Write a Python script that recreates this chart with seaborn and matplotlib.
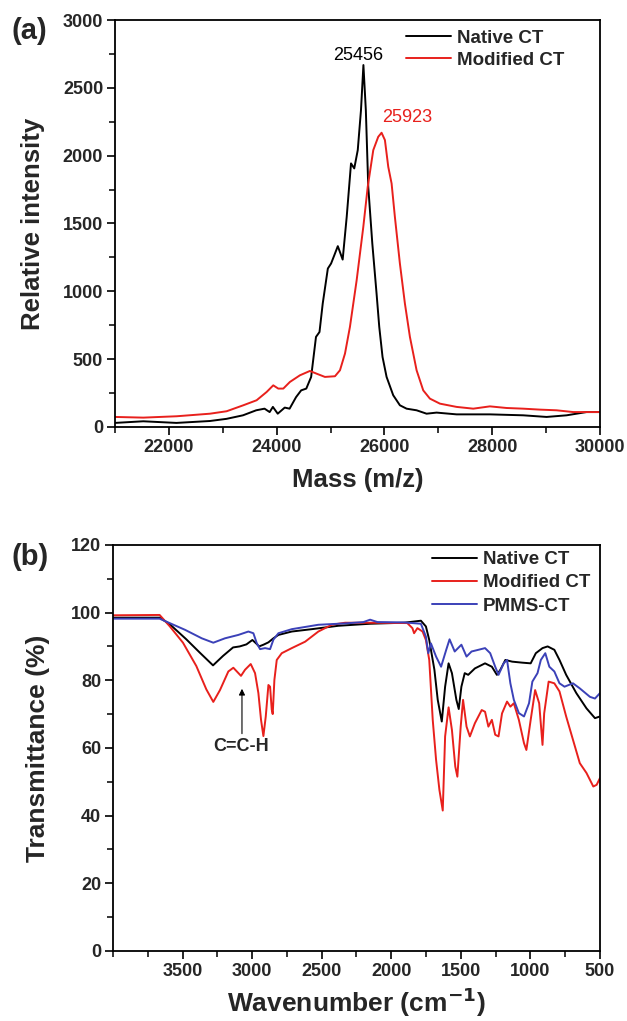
import numpy as np
import pandas as pd
import matplotlib
matplotlib.use("Agg")
import matplotlib.pyplot as plt
from matplotlib.ticker import MultipleLocator, FixedLocator
import seaborn as sns

# (a) mass spectra
mass_native = [21000, 21525, 22140, 22760, 23070, 23375, 23620, 23775, 23870, 23930,
               24020, 24150, 24240, 24360, 24455, 24550, 24640, 24730, 24795, 24855,
               24950, 25010, 25070, 25135, 25225, 25300, 25380, 25440, 25505, 25565,
               25610, 25655, 25700, 25775, 25854, 25904, 25965, 26040, 26163, 26287,
               26411, 26597, 26782, 26968, 27339, 27957, 28576, 29009, 29380, 29751, 30000]
int_native = [30, 42, 30, 44, 60, 86, 123, 135, 110, 148,
              98, 143, 135, 220, 270, 283, 369, 664, 700, 910,
              1168, 1205, 1266, 1333, 1234, 1549, 1943, 1906, 2041, 2336,
              2668, 2336, 1770, 1353, 984, 738, 516, 369, 234, 160,
              135, 123, 98, 106, 93, 93, 86, 74, 86, 110, 110]

mass_mod = [21000, 21526, 22144, 22763, 23072, 23381, 23628, 23814, 23937, 24030,
            24123, 24246, 24432, 24617, 24741, 24896, 25082, 25175, 25268, 25360,
            25484, 25608, 25690, 25793, 25885, 25947, 26009, 26071, 26133, 26194,
            26287, 26380, 26473, 26597, 26720, 26844, 27030, 27339, 27648, 27957,
            28266, 28576, 28885, 29194, 29504, 30000]
int_mod = [74, 69, 79, 98, 116, 160, 197, 258, 307, 283,
           283, 332, 381, 413, 393, 369, 374, 418, 541, 738,
           1080, 1475, 1770, 2041, 2139, 2169, 2115, 1918, 1795, 1549,
           1205, 910, 664, 418, 270, 209, 172, 148, 135, 152,
           140, 135, 128, 123, 110, 110]

# (b) FTIR spectra
wn_native = [4000, 3665, 3593, 3473, 3377, 3281, 3209, 3137, 3089, 3041,
             2998, 2969, 2950, 2919, 2883, 2847, 2811, 2715, 2571, 2380,
             2152, 1909, 1787, 1751, 1727, 1690, 1666, 1637, 1613, 1588,
             1564, 1532, 1515, 1496, 1472, 1447, 1399, 1326, 1277, 1241,
             1216, 1180, 1131, 1058, 998, 961, 913, 876, 828, 791,
             743, 670, 597, 536, 500]
t_native = [98.5, 98.5, 96.6, 92.1, 88.2, 84.4, 87.2, 89.7, 90.0, 90.6,
            91.9, 90.8, 90.0, 90.5, 91.2, 92.4, 93.4, 94.4, 95.1, 96.1,
            96.7, 97.0, 97.6, 95.9, 91.9, 83.1, 74.2, 67.8, 78.1, 85.0,
            82.1, 74.2, 71.5, 78.1, 82.1, 81.6, 83.5, 85.0, 84.0, 81.6,
            83.1, 86.0, 85.5, 85.2, 85.0, 88.0, 89.5, 90.0, 89.0, 86.0,
            81.6, 76.2, 71.7, 68.8, 69.3]

wn_mod = [4000, 3665, 3593, 3497, 3401, 3329, 3279, 3231, 3171, 3135,
          3080, 3051, 3010, 2979, 2955, 2936, 2919, 2902, 2883, 2871,
          2859, 2852, 2840, 2823, 2787, 2715, 2619, 2524, 2428, 2332,
          2152, 1885, 1848, 1836, 1812, 1775, 1751, 1727, 1702, 1678,
          1654, 1630, 1613, 1588, 1564, 1540, 1525, 1501, 1484, 1459,
          1435, 1399, 1350, 1326, 1302, 1277, 1253, 1229, 1204, 1168,
          1144, 1119, 1083, 1046, 1029, 998, 966, 937, 913, 901,
          869, 828, 791, 743, 694, 645, 597, 548, 524, 500]
t_mod = [99.2, 99.3, 96.0, 91.1, 84.2, 77.3, 73.6, 77.1, 82.6, 83.7,
         81.3, 83.1, 84.8, 82.1, 76.2, 68.3, 63.5, 69.3, 78.6, 78.1,
         71.3, 70.0, 80.1, 86.0, 88.0, 89.5, 91.4, 94.4, 96.4, 97.0,
         97.0, 96.9, 95.4, 93.9, 95.4, 94.4, 91.9, 86.0, 68.3, 56.5,
         47.6, 41.5, 63.4, 72.0, 65.3, 54.5, 51.5, 66.3, 74.2, 66.3,
         63.4, 67.3, 71.2, 70.7, 66.3, 68.3, 63.9, 63.4, 70.2, 73.7,
         72.2, 73.2, 68.3, 61.4, 59.4, 68.3, 77.1, 73.2, 60.9, 70.2,
         79.6, 79.1, 76.7, 69.3, 62.4, 55.5, 52.6, 48.6, 49.1, 51.1]

wn_pmms = [4000, 3665, 3626, 3482, 3362, 3279, 3195, 3099, 3027, 2991,
           2967, 2943, 2907, 2871, 2847, 2811, 2715, 2524, 2332, 2200,
           2152, 2100, 1909, 1787, 1751, 1734, 1715, 1678, 1642, 1605,
           1581, 1544, 1496, 1459, 1423, 1374, 1326, 1289, 1253, 1229,
           1192, 1168, 1144, 1119, 1083, 1046, 1010, 986, 949, 925,
           893, 864, 828, 791, 755, 694, 645, 572, 536, 500]
t_pmms = [98.2, 98.2, 97.5, 94.9, 92.4, 91.1, 92.4, 93.4, 94.4, 93.9,
          91.0, 89.2, 89.5, 89.2, 92.0, 93.9, 95.1, 96.4, 96.8, 97.2,
          97.9, 97.2, 97.1, 96.7, 92.9, 88.0, 90.9, 87.0, 84.0, 89.0,
          92.1, 88.5, 90.5, 87.0, 88.5, 89.0, 89.5, 88.0, 84.0, 81.6,
          85.0, 86.0, 79.1, 74.2, 70.3, 69.3, 73.2, 79.6, 82.1, 86.0,
          88.0, 84.0, 82.6, 79.1, 78.1, 79.1, 77.6, 75.1, 74.6, 76.2]

ms_df = pd.concat([
    pd.DataFrame({"mass": mass_native, "intensity": int_native, "sample": "Native CT"}),
    pd.DataFrame({"mass": mass_mod, "intensity": int_mod, "sample": "Modified CT"}),
])
ir_df = pd.concat([
    pd.DataFrame({"wn": wn_native, "T": t_native, "sample": "Native CT"}),
    pd.DataFrame({"wn": wn_mod, "T": t_mod, "sample": "Modified CT"}),
    pd.DataFrame({"wn": wn_pmms, "T": t_pmms, "sample": "PMMS-CT"}),
])

colors = {"Native CT": "#000000", "Modified CT": "#e8201c", "PMMS-CT": "#3b41b8"}

sns.set_style("ticks")
plt.rcParams["font.family"] = ["Liberation Sans", "DejaVu Sans"]
plt.rcParams["axes.linewidth"] = 1.3
plt.rcParams["xtick.major.width"] = 1.2
plt.rcParams["ytick.major.width"] = 1.2
plt.rcParams["xtick.minor.width"] = 1.1
plt.rcParams["ytick.minor.width"] = 1.1

fig = plt.figure(figsize=(6.27, 10.21), dpi=100)
ax1 = fig.add_axes([0.1834, 0.5818, 0.7735, 0.3986])
ax2 = fig.add_axes([0.1802, 0.0686, 0.7767, 0.3977])

sns.lineplot(data=ms_df, x="mass", y="intensity", hue="sample", palette=colors,
             estimator=None, lw=1.4, ax=ax1, legend=True)
sns.lineplot(data=ir_df, x="wn", y="T", hue="sample", palette=colors,
             estimator=None, lw=1.4, ax=ax2, legend=True)


def style_axes(ax):
    for s in ax.spines.values():
        s.set_visible(True)
        s.set_color("black")
    ax.tick_params(which="major", direction="out", length=5.5, pad=3,
                   labelsize=13, top=False, right=False, color="black")
    ax.tick_params(which="minor", direction="out", length=4, top=False, right=False,
                   color="black")
    for lab in ax.get_xticklabels() + ax.get_yticklabels():
        lab.set_fontweight("bold")


ax1.set_xlim(21000, 30000)
ax1.set_ylim(0, 3000)
ax1.xaxis.set_major_locator(MultipleLocator(2000))
ax1.xaxis.set_minor_locator(MultipleLocator(1000))
ax1.yaxis.set_major_locator(MultipleLocator(500))
ax1.yaxis.set_minor_locator(MultipleLocator(250))
style_axes(ax1)
ax1.set_xlabel("Mass (m/z)", fontsize=18.5, fontweight="bold")
ax1.set_ylabel("Relative intensity", fontsize=18.5, fontweight="bold")
ax1.xaxis.set_label_coords(0.5, -0.10)
ax1.yaxis.set_label_coords(-0.145, 0.5)
ax1.text(25508, 2742, "25456", color="black", fontsize=13, ha="center", va="center")
ax1.text(25960, 2280, "25923", color=colors["Modified CT"], fontsize=13, ha="left", va="center")
leg1 = ax1.legend(loc="upper left", bbox_to_anchor=(0.601, 0.976), frameon=False,
                  borderpad=0, borderaxespad=0, handlelength=2.4, handletextpad=0.3,
                  labelspacing=0.25, prop={"size": 13.5, "weight": "bold"})
for ln in leg1.get_lines():
    ln.set_linewidth(1.4)

ax2.set_xlim(4000, 500)
ax2.set_ylim(0, 120)
ax2.xaxis.set_major_locator(FixedLocator([3500, 3000, 2500, 2000, 1500, 1000, 500]))
ax2.xaxis.set_minor_locator(MultipleLocator(250))
ax2.yaxis.set_major_locator(MultipleLocator(20))
ax2.yaxis.set_minor_locator(MultipleLocator(10))
style_axes(ax2)
ax2.set_xlabel("Wavenumber (cm$^{\\mathbf{-1}}$)", fontsize=19, fontweight="bold")
ax2.set_ylabel("Transmittance (%)", fontsize=19, fontweight="bold")
ax2.xaxis.set_label_coords(0.5, -0.085)
ax2.yaxis.set_label_coords(-0.130, 0.5)
ax2.annotate("", xy=(3073, 78.3), xytext=(3073, 63.4),
             arrowprops=dict(arrowstyle="-|>", lw=0.8, color="black", mutation_scale=9))
ax2.text(3076, 60.4, "C=C-H", fontsize=13, fontweight="bold", ha="center", va="center")
leg2 = ax2.legend(loc="upper left", bbox_to_anchor=(0.655, 0.985), frameon=False,
                  borderpad=0, borderaxespad=0, handlelength=2.4, handletextpad=0.3,
                  labelspacing=0.33, prop={"size": 13.5, "weight": "bold"})
for ln in leg2.get_lines():
    ln.set_linewidth(1.4)

fig.text(0.019, 0.970, "(a)", fontsize=21, fontweight="bold", va="center", ha="left")
fig.text(0.019, 0.4545, "(b)", fontsize=21, fontweight="bold", va="center", ha="left")

fig.savefig("out.png", dpi=100)
plt.close(fig)
